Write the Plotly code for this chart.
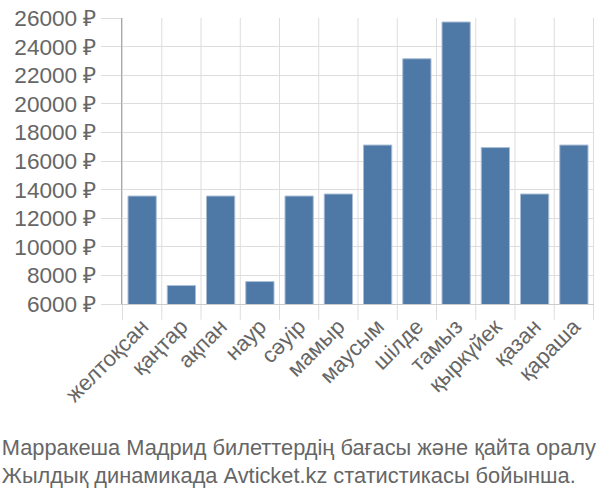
import plotly.graph_objects as go

months = ["желтоқсан", "қаңтар", "ақпан", "наур", "сәуір", "мамыр",
          "маусым", "шілде", "тамыз", "қыркүйек", "қазан", "қараша"]
prices = [13550, 7290, 13550, 7570, 13550, 13690,
          17115, 23150, 25720, 16940, 13690, 17115]
y_ticks = [6000, 8000, 10000, 12000, 14000, 16000, 18000, 20000, 22000, 24000, 26000]
y_tick_labels = [f"{v} ₽" for v in y_ticks]
title_lines = ["Марракеша Мадрид билеттердің бағасы және қайта оралу",
               "Жылдық динамикада Avticket.kz статистикасы бойынша."]

font_family = "'Liberation Sans', Arial, sans-serif"

fig = go.Figure(go.Bar(
    x=months, y=prices,
    marker=dict(color="#4e79a7", line=dict(color="#a9bdd5", width=1)),
    width=0.72,
))

fig.update_layout(
    width=600, height=500,
    margin=dict(l=122, r=6, t=14, b=196),
    paper_bgcolor="white", plot_bgcolor="white",
    showlegend=False,
    font=dict(family=font_family, color="#666666", size=22),
    title=dict(
        text="<br>".join(title_lines),
        x=0.003, xanchor="left", xref="container",
        y=0.09, yanchor="middle", yref="container",
        font=dict(family=font_family, size=21.8, color="#666666"),
    ),
)

fig.update_xaxes(
    type="category",
    tickangle=-45,
    showgrid=False,
    ticks="",
    showline=True, linecolor="#cccccc", linewidth=1,
    tickfont=dict(size=22, color="#666666"),
)

# vertical grid lines between categories
for i in range(len(months) + 1):
    fig.add_shape(type="line", xref="x", yref="paper",
                  x0=i - 0.5, x1=i - 0.5, y0=-0.055, y1=1,
                  line=dict(color="#dddddd", width=1), layer="below")

fig.update_yaxes(
    range=[6000, 26000],
    tickvals=y_ticks, ticktext=y_tick_labels,
    showgrid=True, gridcolor="#dddddd", gridwidth=1,
    ticks="outside", ticklen=20, tickcolor="#dddddd",
    showline=True, linecolor="#aaaaaa", linewidth=1,
    tickfont=dict(size=22.6, color="#666666"),
    zeroline=False,
)

fig.write_html("out.html")
